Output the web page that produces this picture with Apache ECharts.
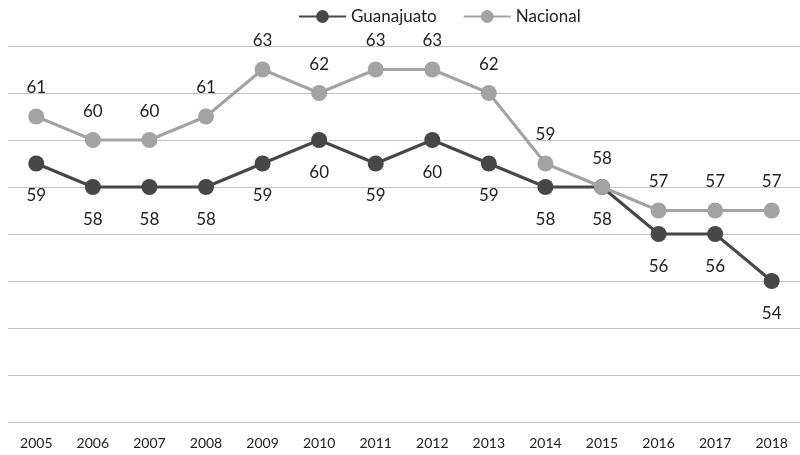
<!DOCTYPE html>
<html>
<head>
<meta charset="utf-8">
<script src="https://cdn.jsdelivr.net/npm/echarts@6/dist/echarts.min.js"></script>
<style>
  html, body { margin: 0; padding: 0; background: #fff; }
  #chart { width: 800px; height: 455px; }
</style>
</head>
<body>
<div id="chart"></div>
<script>
// datos
const years = ['2005', '2006', '2007', '2008', '2009', '2010', '2011', '2012', '2013', '2014', '2015', '2016', '2017', '2018']
const guanajuato = [59, 58, 58, 58, 59, 60, 59, 60, 59, 58, 58, 56, 56, 54]
const nacional = [61, 60, 60, 61, 63, 62, 63, 63, 62, 59, 58, 57, 57, 57]

const chart = echarts.init(document.getElementById('chart'))
const font = 'Lato, sans-serif'

chart.setOption({
  animation: false,
  legend: {
    top: 3,
    left: 293,
    itemWidth: 47,
    itemHeight: 16,
    itemGap: 26,
    textStyle: { fontFamily: font, fontSize: 17, color: '#222' },
    data: ['Guanajuato', 'Nacional']
  },
  grid: { left: 8, right: -6, top: 46, bottom: 33 },
  xAxis: {
    type: 'category',
    data: years,
    axisLine: { show: false },
    axisTick: { show: false },
    axisLabel: { fontFamily: font, fontSize: 14, color: '#222', margin: 14 }
  },
  yAxis: {
    type: 'value',
    min: 48,
    max: 64,
    interval: 2,
    axisLabel: { show: false },
    splitLine: { lineStyle: { color: '#c4c4c4', width: 1 } }
  },
  series: [
    {
      name: 'Guanajuato',
      type: 'line',
      data: guanajuato,
      symbol: 'circle',
      symbolSize: 16,
      itemStyle: { color: '#474747' },
      lineStyle: { color: '#474747', width: 3 },
      label: {
        show: true, position: 'bottom', distance: 16,
        fontFamily: font, fontSize: 17, color: '#222'
      },
      z: 3
    },
    {
      name: 'Nacional',
      type: 'line',
      data: nacional,
      symbol: 'circle',
      symbolSize: 16,
      itemStyle: { color: '#a3a3a3' },
      lineStyle: { color: '#a3a3a3', width: 3 },
      label: {
        show: true, position: 'top', distance: 12,
        fontFamily: font, fontSize: 17, color: '#222'
      },
      z: 4
    }
  ]
})
</script>
</body>
</html>
